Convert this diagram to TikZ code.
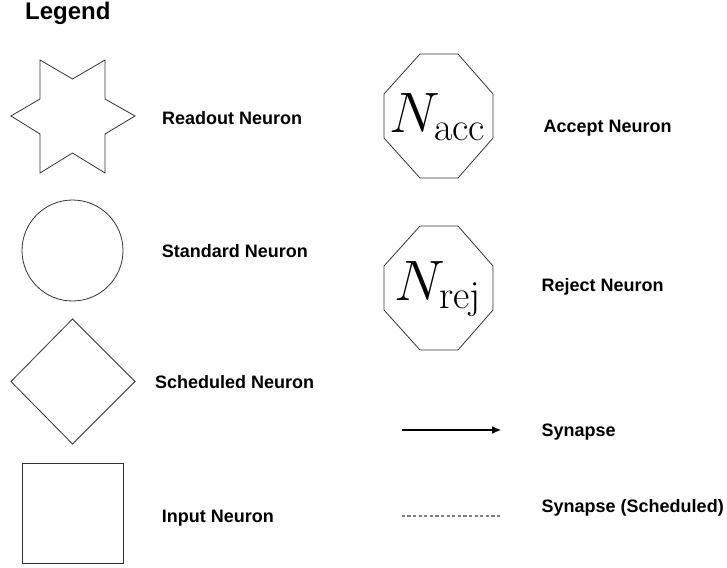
\RequirePackage{fix-cm}
\documentclass[tikz,border=0pt]{standalone}
\usepackage{fontspec}
\setsansfont{Liberation Sans}
\usepackage{tikz}
\usetikzlibrary{calc,arrows.meta}
\def\octagon[#1](#2){\draw[#1] ($(#2)+(-18.5,-62)$) -- ($(#2)+(19.5,-62)$) -- ($(#2)+(54.5,-22)$) -- ($(#2)+(54.5,22)$) -- ($(#2)+(19.5,62)$) -- ($(#2)+(-18.5,62)$) -- ($(#2)+(-54.5,22)$) -- ($(#2)+(-54.5,-22)$) -- cycle;}
\DeclareMathSizes{57}{57}{40}{28.5}

\begin{document}
\begin{tikzpicture}[x=1pt, y=-1pt,
		shp/.style={line width=0.8pt, color=black!80},
		lbl/.style={anchor=base west, inner sep=0pt, font=\sffamily\bfseries\fontsize{18}{20}\selectfont},
		big/.style={anchor=base, inner sep=0pt, font=\fontsize{57}{60}\selectfont}]
			%%%%% START %%%%%
			\useasboundingbox (0, 0) rectangle (727, 567);
			
			\node[anchor=base west, inner sep=0pt, font=\sffamily\bfseries\fontsize{24}{26}\selectfont] (title) at (25, 20) {Legend};
			
			% readout
			\draw[shp] (11, 116) -- (40, 99) -- (40, 60) -- (72.5, 79) -- (105, 60) -- (105, 99) -- (135, 116) -- (105, 134) -- (105, 173) -- (72.5, 153) -- (40, 173) -- (40, 134) -- cycle;
			\node[lbl] (readout) at (162, 124.5) {Readout Neuron};
			
			% standard
			\draw[shp] (72.5, 250.5) circle (50.5);
			\node[lbl] (standard) at (161.7, 257.7) {Standard Neuron};
			
			% scheduled
			\draw[shp] (72.5, 319) -- (135, 381.5) -- (72.5, 444) -- (11, 381.5) -- cycle;
			\node[lbl] (scheduled) at (155, 388.3) {Scheduled Neuron};
			
			% input
			\draw[shp] (22, 463) rectangle (123, 563);
			\node[lbl] (input) at (161.7, 522.7) {Input Neuron};
			
			% accept
			\octagon[shp](438.5, 116);
			\node[big] (nacc) at (437.5, 132) {$N_{\mathrm{acc}}$};
			\node[lbl] (accept) at (543.3, 132.7) {Accept Neuron};
			
			% reject
			\octagon[shp](438.5, 288);
			\node[big] (nrej) at (438, 300) {$N_{\mathrm{rej}}$};
			\node[lbl] (reject) at (541.5, 291) {Reject Neuron};
			
			% synapses
			\coordinate (s1a) at (401.7, 430);
			\coordinate (s1b) at (501, 430);
			\draw[line width=1.2pt, -{Latex[length=9pt, width=8pt]}] (s1a) -- (s1b);
			\node[lbl] (synapse) at (541.5, 436.5) {Synapse};
			
			\coordinate (s2a) at (401.7, 516);
			\coordinate (s2b) at (502, 516);
			\draw[line width=1.5pt, color=black!50, dash pattern=on 3.3pt off 2.3pt] (s2a) -- (s2b);
			\node[lbl] (schedsyn) at (541.5, 512.7) {Synapse (Scheduled)};
			
			%%%%% END %%%%%
		\end{tikzpicture}
\end{document}
